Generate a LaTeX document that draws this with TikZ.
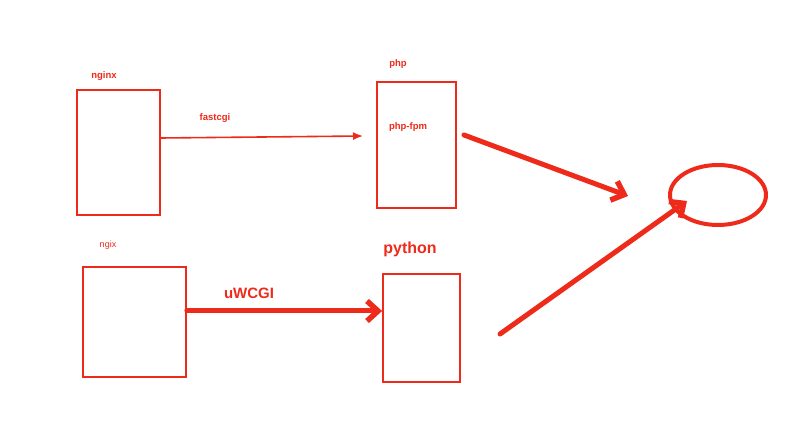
\documentclass[tikz,border=0pt]{standalone}
\usepackage{fontspec}
\setmainfont{Liberation Sans}
\usepackage{tikz}
\usetikzlibrary{arrows.meta,shapes.geometric}
\definecolor{penred}{HTML}{EE2A1A}
\tikzset{
  box/.style={draw=penred, line width=1.8pt, inner sep=0pt},
  lbl/.style={text=penred, font=\bfseries\fontsize{9.5}{11}\selectfont, inner sep=0pt},
  thinarrow/.style={-{Latex[length=10pt,width=8pt]}, draw=penred, line width=1.6pt},
  fatarrow/.style={-{Straight Barb[length=11pt,width=20pt,line width=5.5pt]}, draw=penred, line width=5pt, line cap=round}
}

\begin{document}
\begin{tikzpicture}[x=1pt, y=-1pt]
        \useasboundingbox[fill=white] (0,0) rectangle (789,427);
        % servers on the left
        \node[box, minimum width=83pt, minimum height=125pt] (nginxbox) at (118.5,152.5) {};
        \node[box, minimum width=103pt, minimum height=110pt] (ngixbox) at (134.5,322) {};
        % backends
        \node[box, minimum width=79pt, minimum height=126pt] (phpbox) at (416.5,145) {};
        \node[box, minimum width=77pt, minimum height=108pt] (pybox) at (421.5,328) {};
        \node[draw=penred, line width=4pt, ellipse, minimum width=96pt, minimum height=60pt, inner sep=0pt] (target) at (718,195) {};
        % labels
        \node[lbl] (nginx) at (104,76) {nginx};
        \node[lbl] (php) at (398,64) {php};
        \node[lbl] (fastcgi) at (215,118) {fastcgi};
        \node[lbl] (phpfpm) at (408,127) {php-fpm};
        \node[lbl, font=\fontsize{9}{11}\selectfont] (ngix) at (108,245) {ngix};
        \node[lbl, font=\bfseries\fontsize{16}{18}\selectfont] (python) at (410,249) {python};
        \node[lbl, font=\bfseries\fontsize{15}{17}\selectfont] (uwcgi) at (249,293) {uWCGI};
        % connectors
        \coordinate (fcgiend) at (363,136);
        \coordinate (phpout) at (464,135);
        \coordinate (phpend) at (628,196);
        \coordinate (pyout) at (500,334);
        \coordinate (pyend) at (687,201);
        \draw[thinarrow] (nginxbox.east |- 0,138) -- (fcgiend);
        \draw[fatarrow] (ngixbox.east |- 0,311) -- (pybox.west |- 0,311);
        \draw[fatarrow] (phpout) -- (phpend);
        \draw[fatarrow] (pyout) -- (pyend);
\end{tikzpicture}
\end{document}
